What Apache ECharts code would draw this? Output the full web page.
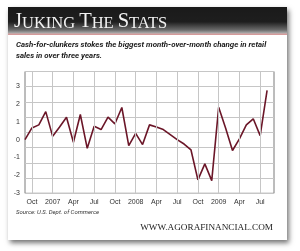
<!DOCTYPE html>
<html><head><meta charset="utf-8">
<script src="https://cdn.jsdelivr.net/npm/echarts@6/dist/echarts.min.js"></script>
<style>html,body{margin:0;padding:0;background:#fff;}#c{width:300px;height:251px;}</style>
</head><body><div id="c"></div>
<script>
// Months from Sep 2006 to Sep 2009 (Jan shown as year)
const months = ['Sep','Oct','Nov','Dec',
 '2007','Feb','Mar','Apr','May','Jun','Jul','Aug','Sep','Oct','Nov','Dec',
 '2008','Feb','Mar','Apr','May','Jun','Jul','Aug','Sep','Oct','Nov','Dec',
 '2009','Feb','Mar','Apr','May','Jun','Jul','Aug','Sep'];
// Month-over-month % change in retail sales (Sep 2006 .. Aug 2009)
const retailChange = [0.0,0.65,0.82,1.56,
 0.18,0.7,1.25,-0.15,1.4,-0.49,0.74,0.56,1.25,0.88,1.79,-0.34,
 0.35,-0.28,0.82,0.7,0.56,0.28,0.0,-0.25,-0.58,-2.25,-1.36,-2.29,
 1.8,0.65,-0.61,0.04,0.82,1.16,0.22,2.74];
const tickLabels = ['Oct','2007','2008','2009','Apr','Jul'];
const yTicks = [-3,-2,-1,0,1,2,3];
const subtitle1 = 'Cash-for-clunkers stokes the biggest month-over-month change in retail';
const subtitle2 = 'sales in over three years.';
const sourceText = 'Source: U.S. Dept. of Commerce';
const siteText = 'WWW.AGORAFINANCIAL.COM';

const chart = echarts.init(document.getElementById('c'), null, {renderer:'canvas'});
const isTick = (i) => i % 3 === 1 && tickLabels.indexOf(months[i]) >= 0;
const tickIdx = months.map((m,i)=>i).filter(isTick);

chart.setOption({
  animation:false,
  backgroundColor:'#fff',
  graphic:[
    {type:'rect', z:-10, shape:{x:8,y:7,width:279,height:233},
      style:{fill:'#fff', shadowBlur:5, shadowOffsetX:2, shadowOffsetY:3, shadowColor:'rgba(0,0,0,0.55)'}},
    {type:'rect', z:-9, shape:{x:8,y:7,width:279,height:27},
      style:{fill:new echarts.graphic.LinearGradient(0,0,0,1,[
        {offset:0,color:'#1a1a1a'},{offset:0.55,color:'#1e1e1e'},{offset:0.85,color:'#6a6a6a'},{offset:1,color:'#bdbdbd'}])}},
    {type:'rect', z:-9, shape:{x:8,y:33.5,width:279,height:1.5}, style:{fill:'#d49a9a'}},
    {type:'text', left:14, top:11, z:10,
      style:{text:'{b|J}{s|UKING} {b|T}{s|HE} {b|S}{s|TATS}',
        rich:{b:{fontFamily:'Liberation Serif',fontSize:20.5,fill:'#f2f2f2',verticalAlign:'bottom'},
              s:{fontFamily:'Liberation Serif',fontSize:16.5,fill:'#f2f2f2',verticalAlign:'bottom'}},
        fill:'#f2f2f2', font:'16px "Liberation Serif"'}},
    {type:'text', left:16, top:41, z:10,
      style:{text:subtitle1, fill:'#1a1a1a', font:'italic bold 7.9px Roboto'}},
    {type:'text', left:16, top:52, z:10,
      style:{text:subtitle2, fill:'#1a1a1a', font:'italic bold 7.9px Roboto'}},
    {type:'text', left:16, top:209, z:10,
      style:{text:sourceText, fill:'#333', font:'italic 6px Roboto'}},
    {type:'text', right:27, top:223, z:10,
      style:{text:siteText, fill:'#222', font:'9.2px "Liberation Serif"'}}
  ],
  grid:{left:25, right:26, top:71.5, bottom:57.7, show:true, borderColor:'#7a7a7a', borderWidth:1, backgroundColor:'transparent'},
  xAxis:{type:'category', data:months, boundaryGap:false,
    axisLine:{show:false}, axisTick:{show:false},
    axisLabel:{interval:0, hideOverlap:false, color:'#333', fontSize:7, fontFamily:'Liberation Sans', margin:5,
      formatter:(v, i)=> isTick(i) ? v : ''},
    splitLine:{show:false}},
  yAxis:[
    {type:'value', min:-3, max:3.8, interval:1,
      axisLine:{show:false}, axisTick:{show:false}, splitLine:{show:false},
      axisLabel:{color:'#333', fontSize:7, fontFamily:'Liberation Sans', margin:5,
        formatter:(v)=> yTicks.indexOf(v)>=0 ? String(v) : ''}},
    {type:'value', min:0, max:8, interval:1, show:true,
      axisLine:{show:false}, axisTick:{show:false}, axisLabel:{show:false},
      splitLine:{show:true, lineStyle:{color:'#c6c6c6', width:1}}}
  ],
  series:[
    {type:'line', data:[], yAxisIndex:0, z:1, silent:true,
      markLine:{silent:true, symbol:'none', label:{show:false},
        lineStyle:{color:'#c6c6c6', width:1, type:'solid'},
        data:tickIdx.map(i=>({xAxis:i}))}},
    {type:'line', data:retailChange, yAxisIndex:0, z:3, symbol:'none',
      lineStyle:{color:'#6b1628', width:1.6}}]
});
</script></body></html>
